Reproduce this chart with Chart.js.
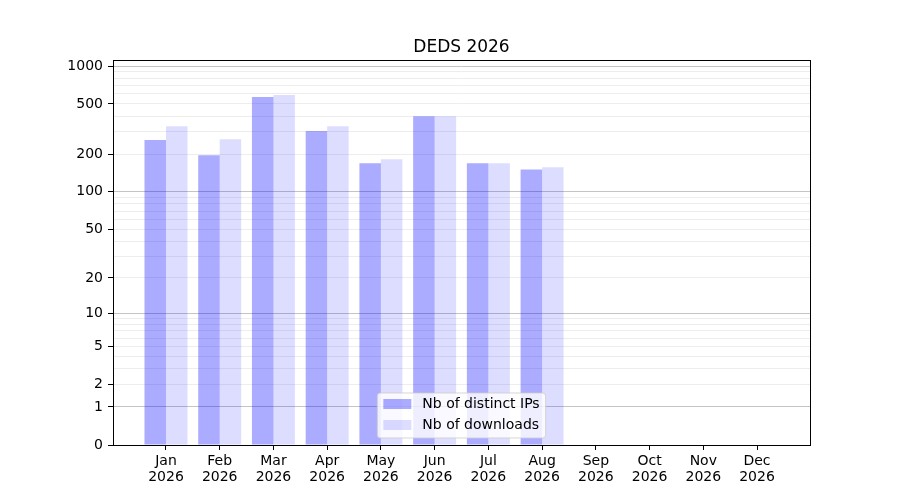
<!DOCTYPE html>
<html>
<head>
<meta charset="utf-8">
<script src="https://cdn.jsdelivr.net/npm/chart.js@4.4.1/dist/chart.umd.min.js"></script>
<style>
  body { margin: 0; background: #fff; }
  #wrap { width: 900px; height: 500px; }
</style>
</head>
<body>
<div id="wrap"><canvas id="c"></canvas></div>
<script>
const months = ['Jan', 'Feb', 'Mar', 'Apr', 'May', 'Jun', 'Jul', 'Aug', 'Sep', 'Oct', 'Nov', 'Dec']
const year = '2026'
const distinctIPs = [259, 196, 567, 305, 169, 400, 169, 151]
const downloads = [333, 263, 588, 333, 182, 400, 169, 157]
const yTickLabels = [0, 1, 2, 5, 10, 20, 50, 100, 200, 500, 1000]
const yMinorLines = [3, 4, 6, 7, 8, 9, 30, 40, 60, 70, 80, 90, 300, 400, 600, 700, 800, 900]
const yDecades = [1, 10, 100, 1000]

const FONT = 'DejaVu Sans'
const tf = v => Math.log10(v + 1)

// y scale: log10(v + 1)
class Log1pScale extends Chart.LinearScale {
  buildTicks() {
    const all = yTickLabels.concat(yMinorLines).sort((a, b) => a - b)
    return all.map(v => ({ value: v }))
  }
  configure() {
    super.configure()
    this._t0 = tf(this.min)
    this._t1 = tf(this.max)
  }
  getPixelForValue(v) {
    return this.getPixelForDecimal((tf(v) - this._t0) / (this._t1 - this._t0))
  }
  getValueForPixel(p) {
    const d = this.getDecimalForPixel(p)
    return Math.pow(10, this._t0 + d * (this._t1 - this._t0)) - 1
  }
}
Log1pScale.id = 'log1p'
Log1pScale.defaults = {}
Chart.register(Log1pScale)

// frame, title and legend like matplotlib
const decor = {
  id: 'decor',
  afterDraw(chart) {
    const ctx = chart.ctx
    const a = chart.chartArea
    ctx.save()
    // legend
    ctx.font = `14px "${FONT}"`
    const ds = chart.data.datasets
    const tw = Math.max(...ds.map(d => ctx.measureText(d.label).width))
    const w = 6 + 28 + 11 + tw + 6
    const h = 45
    const x = (a.left + a.right) / 2 - w / 2
    const y = a.bottom - 7 - h
    ctx.beginPath()
    ctx.roundRect(x, y, w, h, 3)
    ctx.fillStyle = 'rgba(255,255,255,0.8)'
    ctx.fill()
    ctx.strokeStyle = 'rgba(204,204,204,0.8)'
    ctx.lineWidth = 1
    ctx.stroke()
    ds.forEach((d, i) => {
      const ry = y + 6 + i * 21
      ctx.fillStyle = d.backgroundColor
      ctx.fillRect(x + 6, ry, 28, 10)
      ctx.fillStyle = '#000'
      ctx.textBaseline = 'middle'
      ctx.textAlign = 'left'
      ctx.fillText(d.label, x + 45, ry + 5.5)
    })
    // frame
    ctx.strokeStyle = '#000'
    ctx.lineWidth = 1
    ctx.strokeRect(Math.round(a.left) + 0.5, Math.round(a.top) + 0.5,
      Math.round(a.right - a.left), Math.round(a.bottom - a.top))
    // title
    ctx.fillStyle = '#000'
    ctx.font = `17px "${FONT}"`
    ctx.textAlign = 'center'
    ctx.textBaseline = 'alphabetic'
    ctx.fillText('DEDS 2026', (a.left + a.right) / 2, 52)
    ctx.restore()
  }
}

new Chart(document.getElementById('c'), {
  type: 'bar',
  data: {
    datasets: [
      {
        label: 'Nb of distinct IPs',
        data: distinctIPs.map((v, i) => ({ x: i, y: v })),
        backgroundColor: 'rgba(0, 0, 255, 0.33)'
      },
      {
        label: 'Nb of downloads',
        data: downloads.map((v, i) => ({ x: i, y: v })),
        backgroundColor: 'rgba(0, 0, 255, 0.135)'
      }
    ]
  },
  options: {
    responsive: true,
    maintainAspectRatio: false,
    animation: false,
    datasets: {
      bar: { categoryPercentage: 0.8, barPercentage: 1.0 }
    },
    layout: { padding: { top: 60, right: 90, left: 0, bottom: 0 } },
    scales: {
      x: {
        type: 'linear',
        offset: false,
        min: -0.986,
        max: 11.986,
        afterBuildTicks: scale => {
          scale.ticks = months.map((m, i) => ({ value: i }))
        },
        afterFit: scale => { scale.height = 55 },
        border: { display: false },
        grid: {
          offset: false,
          drawOnChartArea: false,
          drawTicks: true,
          tickLength: 5,
          tickColor: '#000'
        },
        ticks: {
          autoSkip: false,
          maxRotation: 0,
          padding: 3,
          color: '#000',
          font: { family: FONT, size: 14, lineHeight: 1.15 },
          callback: v => [months[v], year]
        }
      },
      y: {
        type: 'log1p',
        min: 0,
        max: 1116,
        afterFit: scale => { scale.width = 113 },
        border: { display: false },
        grid: {
          tickLength: 5,
          color: c => yDecades.includes(c.tick.value) ? 'rgba(176,176,176,0.75)'
            : (c.tick.value === 0 ? 'rgba(0,0,0,0)' : 'rgba(225,225,225,0.6)'),
          tickColor: c => yTickLabels.includes(c.tick.value) ? '#000' : 'rgba(0,0,0,0)'
        },
        ticks: {
          autoSkip: false,
          padding: 5,
          color: '#000',
          font: { family: FONT, size: 14 },
          callback: v => yTickLabels.includes(v) ? String(v) : ''
        }
      }
    },
    plugins: {
      legend: { display: false },
      tooltip: { enabled: false },
      title: { display: false }
    }
  },
  plugins: [decor]
})
</script>
</body>
</html>
